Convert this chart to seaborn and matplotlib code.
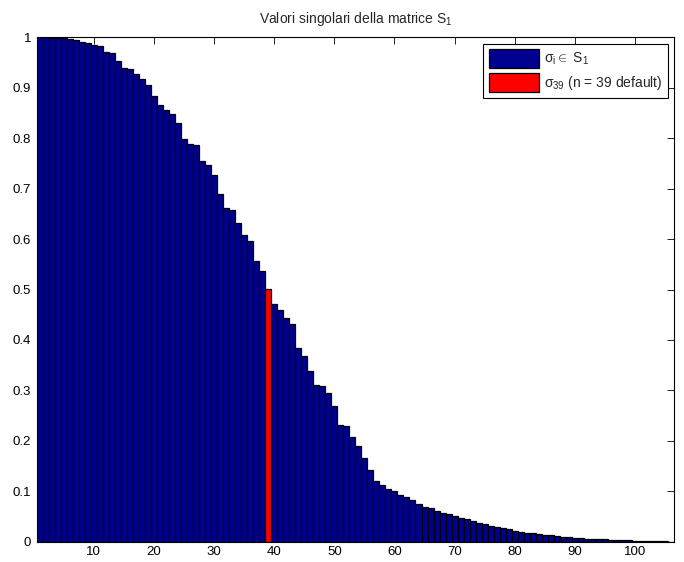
import numpy as np
import pandas as pd
import matplotlib
matplotlib.use("Agg")
import matplotlib.pyplot as plt
import seaborn as sns

# ---- data ----
values = [
    1.000, 1.000, 0.999, 0.998, 0.998, 0.996, 0.994, 0.991, 0.989, 0.985,
    0.983, 0.970, 0.969, 0.954, 0.940, 0.937, 0.927, 0.917, 0.905, 0.884,
    0.866, 0.856, 0.848, 0.831, 0.798, 0.788, 0.786, 0.755, 0.747, 0.727,
    0.689, 0.661, 0.658, 0.631, 0.609, 0.596, 0.556, 0.536, 0.502, 0.471,
    0.459, 0.443, 0.432, 0.385, 0.369, 0.339, 0.311, 0.308, 0.294, 0.270,
    0.231, 0.229, 0.207, 0.189, 0.165, 0.142, 0.120, 0.112, 0.104, 0.101,
    0.092, 0.089, 0.082, 0.074, 0.069, 0.066, 0.061, 0.057, 0.054, 0.050,
    0.048, 0.045, 0.042, 0.038, 0.035, 0.031, 0.029, 0.027, 0.025, 0.022,
    0.019, 0.018, 0.017, 0.015, 0.014, 0.013, 0.011, 0.010, 0.009, 0.0073,
    0.0066, 0.0060, 0.0058, 0.0053, 0.0046, 0.0040, 0.0035, 0.0033, 0.0026, 0.0021,
    0.0016, 0.0012, 0.0010, 0.0008, 0.0005, 0.0003,
]
indices = list(range(1, len(values) + 1))
highlight_index = 39
label_all = r"$\sigma_{i}\in$ S$_{1}$"
label_sel = r"$\sigma_{39}$ (n = 39 default)"
title_text = r"Valori singolari della matrice S$_{1}$"
xticks = [10, 20, 30, 40, 50, 60, 70, 80, 90, 100]
yticks = [0, 0.1, 0.2, 0.3, 0.4, 0.5, 0.6, 0.7, 0.8, 0.9, 1]
ytick_labels = ["0", "0.1", "0.2", "0.3", "0.4", "0.5", "0.6", "0.7", "0.8", "0.9", "1"]

sns.set_style("white")
plt.rcParams["font.family"] = ["Liberation Sans", "DejaVu Sans"]
plt.rcParams["mathtext.fontset"] = "custom"
plt.rcParams["mathtext.rm"] = "Liberation Sans"
plt.rcParams["mathtext.it"] = "Liberation Sans"
plt.rcParams["mathtext.sf"] = "Liberation Sans"

df = pd.DataFrame({
    "idx": indices,
    "val": values,
    "group": [label_sel if i == highlight_index else label_all for i in indices],
})

fig = plt.figure(figsize=(6.84, 5.62), dpi=100)
ax = fig.add_axes([0.0537, 0.0361, 0.9317, 0.8975])

sns.barplot(
    data=df, x="idx", y="val", hue="group",
    hue_order=[label_all, label_sel],
    palette={label_all: "#000090", label_sel: "#FF0000"},
    saturation=1, dodge=False, native_scale=True, width=1.0,
    edgecolor="black", linewidth=0.9, ax=ax, legend=True,
)

ax.set_xlim(0.5, len(values) + 0.5)
ax.set_ylim(0, 1)
ax.set_xticks(xticks)
ax.set_xticklabels([str(t) for t in xticks])
ax.set_yticks(yticks)
ax.set_yticklabels(ytick_labels)
ax.set_xlabel("")
ax.set_ylabel("")
ax.tick_params(direction="in", length=5, width=0.6, top=True, right=True,
               labelsize=9.5, colors="black")
ax.tick_params(axis="x", pad=3)
ax.tick_params(axis="y", pad=4)
for s in ax.spines.values():
    s.set_visible(True)
    s.set_color("black")
    s.set_linewidth(0.8)
ax.set_title(title_text, fontsize=10, pad=10)

leg = ax.legend(loc="upper right", fontsize=10, frameon=True, fancybox=False,
                edgecolor="black", framealpha=1, borderaxespad=0.45,
                handlelength=3.6, handleheight=1.7, handletextpad=0.35,
                labelspacing=0.4, borderpad=0.4)
leg.get_frame().set_linewidth(0.8)

fig.savefig("out.png", dpi=100)
